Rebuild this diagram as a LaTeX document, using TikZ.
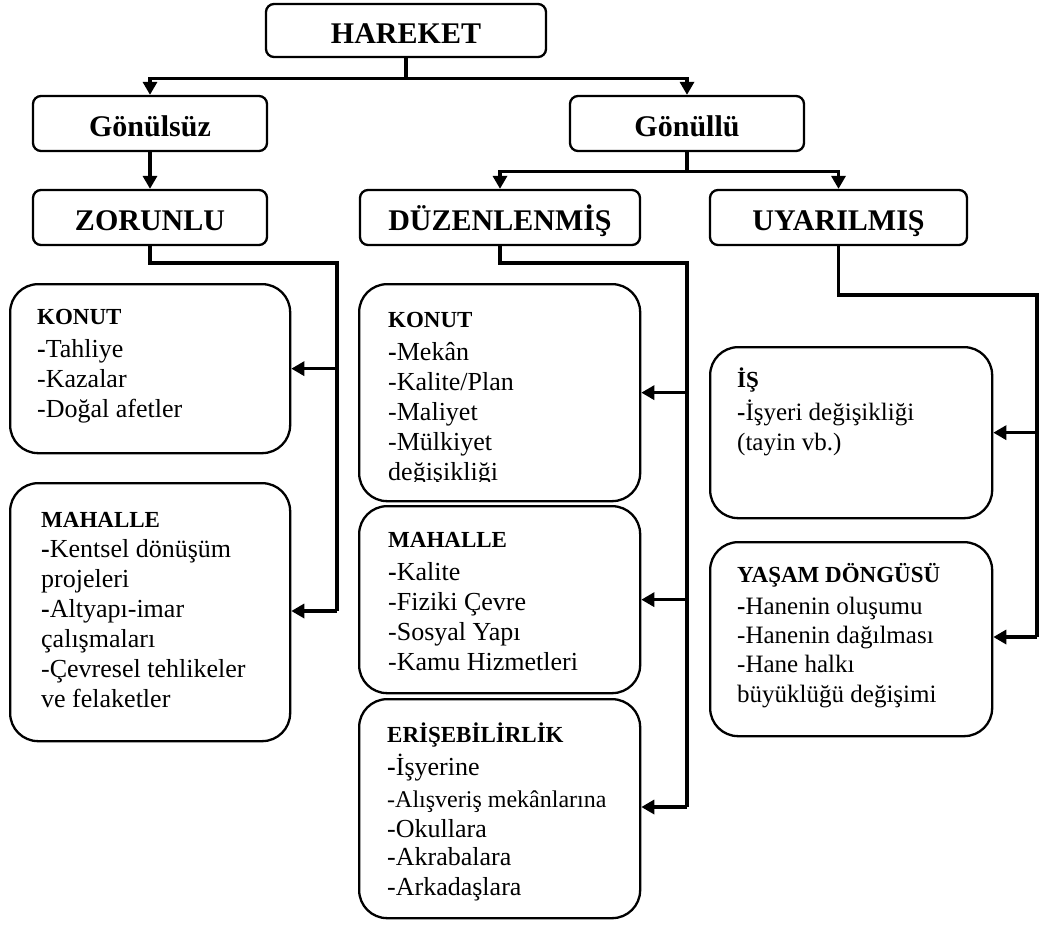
\documentclass[tikz,border=0pt]{standalone}
\usepackage{fontspec}
\setmainfont{Liberation Serif}
\usetikzlibrary{arrows.meta}
\newcommand\lbody{\fontsize{26}{30}\selectfont\raggedright}
\newcommand\rbody{\fontsize{25}{30}\selectfont\raggedright}
\newcommand\lhead{\fontsize{23}{30}\selectfont\bfseries}
\tikzset{
  topbox/.style={draw, line width=2.3pt, rounded corners=8pt, inner sep=0pt,
    minimum height=55pt, font=\fontsize{30}{34}\selectfont\bfseries,
    text height=26pt, text depth=0pt},
  listbox/.style={draw, line width=2.3pt, rounded corners=28pt, inner sep=0pt, anchor=north west},
  txt/.style={anchor=base west, inner sep=0pt},
  conn/.style={line width=3.2pt},
  arr/.style={line width=3.2pt, -{Triangle[length=13pt,width=14pt]}},
}
\begin{document}
\begin{tikzpicture}[x=1pt,y=-1pt]
\useasboundingbox (0,0) rectangle (1040,924);
% top level boxes
\node[topbox, minimum width=280pt, minimum height=53pt] (hareket) at (406,30.5) {HAREKET};
\node[topbox, minimum width=234pt] (gonulsuz) at (150,123.5) {Gönülsüz};
\node[topbox, minimum width=234pt] (gonullu) at (687,123.5) {Gönüllü};
\node[topbox, minimum width=234pt] (zorunlu) at (150,217.5) {ZORUNLU};
\node[topbox, minimum width=280pt] (duz) at (500,217.5) {DÜZENLENMİŞ};
\node[topbox, minimum width=257pt] (uyar) at (838.5,217.5) {UYARILMIŞ};
% list boxes
\node[listbox, minimum width=280pt, minimum height=169pt] (kon1) at (9,283) {};
\node[listbox, minimum width=280pt, minimum height=258pt] (mah1) at (9,482) {};
\node[listbox, minimum width=281pt, minimum height=217pt] (kon2) at (358,283) {};
\node[listbox, minimum width=281pt, minimum height=187pt] (mah2) at (358,505) {};
\node[listbox, minimum width=281pt, minimum height=219pt] (eris) at (358,698) {};
\node[listbox, minimum width=282pt, minimum height=171pt] (is) at (709,346) {};
\node[listbox, minimum width=282pt, minimum height=194pt] (yasam) at (709,541) {};
% texts
\node[txt] (kon1t) at (37,324) {\parbox[t]{260pt}{\lbody {\lhead KONUT}\\[3pt]
  \textbf{-}Tahliye\\ -Kazalar\\ -Doğal afetler}};
\node[txt] (mah1t) at (41,527) {\parbox[t]{260pt}{\lbody {\lhead MAHALLE}\\
  \textbf{-}Kentsel dönüşüm\\ projeleri\\ \textbf{-}Altyapı-imar\\ çalışmaları\\ -Çevresel tehlikeler\\ ve felaketler}};
\begin{scope}
\clip (358,283) rectangle (639,481);
\node[txt] (kon2t) at (388,327) {\parbox[t]{260pt}{\lbody {\lhead KONUT}\\[3pt]
  \textbf{-}Mekân\\ -Kalite/Plan\\ -Maliyet\\ -Mülkiyet\\ değişikliği}};
\end{scope}
\node[txt] (mah2t) at (388,547) {\parbox[t]{260pt}{\lbody {\lhead MAHALLE}\\[3pt]
  \textbf{-}Kalite\\ -Fiziki Çevre\\ -Sosyal Yapı\\ -Kamu Hizmetleri}};
\node[txt] (erist) at (387,742) {\parbox[t]{260pt}{\lbody {\lhead ERİŞEBİLİRLİK}\\[3pt]
  {\fontsize{26}{30}\selectfont\textbf{-}İşyerine}\\[2pt]
  {\fontsize{24}{30}\selectfont -Alışveriş mekânlarına}\\
  -Okullara\\[-2pt] -Akrabalara\\ -Arkadaşlara}};
\node[txt] (ist) at (737,387) {\parbox[t]{260pt}{\rbody {\lhead İŞ}\\[3pt]
  \textbf{-}İşyeri değişikliği\\ (tayin vb.)}};
\node[txt] (yasamt) at (737,582) {\parbox[t]{260pt}{\rbody {\lhead YAŞAM DÖNGÜSÜ}\\[2pt]
  \textbf{-}Hanenin oluşumu\\[-1pt] -Hanenin dağılması\\[-1pt] -Hane halkı\\ büyüklüğü değişimi}};
% connectors top
\draw[arr] (hareket.south) -- ++(0,20) -| (gonulsuz.north);
\draw[arr] (hareket.south) -- ++(0,20) -| (gonullu.north);
\draw[arr] (gonulsuz.south) -- (zorunlu.north);
\draw[arr] (gonullu.south) -- ++(0,19) -| (duz.north);
\draw[arr] (gonullu.south) -- ++(0,19) -| (uyar.north);
% left bus
\coordinate (zb1) at (337,263);
\coordinate (zb2) at (337,611);
\draw[conn] (zorunlu.south) |- (zb1) -- (zb2);
\draw[arr] (zb1 |- kon1.east) -- (kon1.east);
\draw[arr] (zb2) -- (mah1.east |- zb2);
% middle bus
\coordinate (db1) at (687,263);
\coordinate (db2) at (687,807);
\draw[conn] (duz.south) |- (db1) -- (db2);
\draw[arr] (db1 |- kon2.east) -- (kon2.east);
\draw[arr] (db1 |- mah2.east) -- (mah2.east);
\draw[arr] (db2) -- (eris.east |- db2);
% right bus
\coordinate (ub1) at (1037,295);
\coordinate (ub2) at (1037,637);
\draw[conn] (uyar.south) |- (ub1) -- (ub2);
\draw[arr] (ub1 |- is.east) -- (is.east);
\draw[arr] (ub2) -- (yasam.east |- ub2);
\end{tikzpicture}
\end{document}
